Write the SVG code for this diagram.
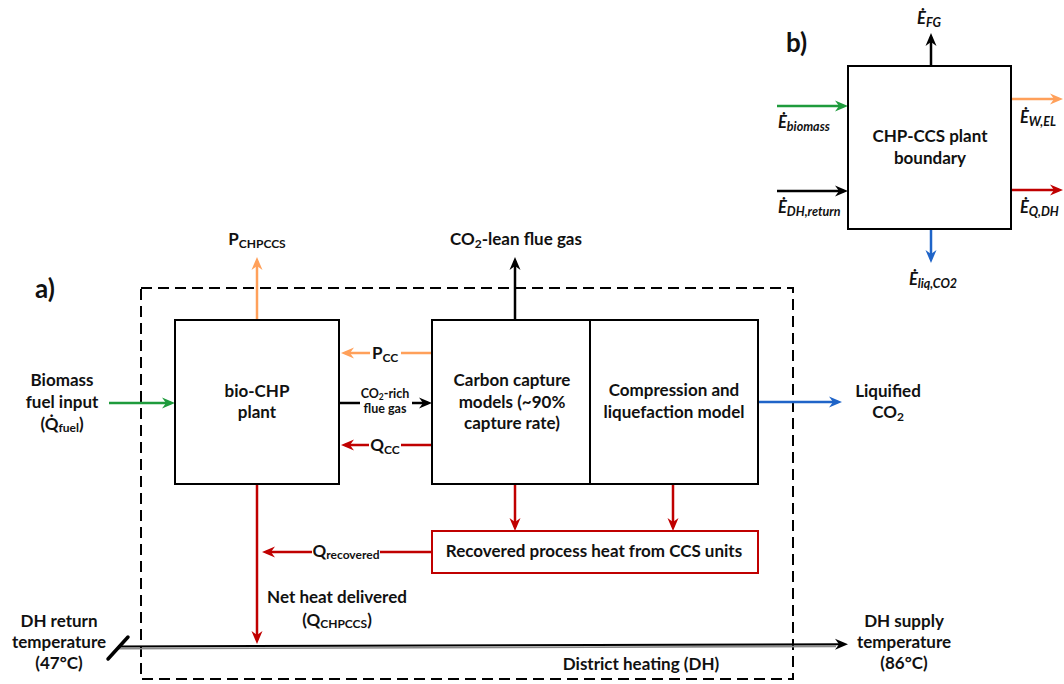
<svg xmlns="http://www.w3.org/2000/svg" width="1064" height="684" viewBox="0 0 1064 684">
<defs>
<style>
.t{font-family:"Lato","Liberation Sans",sans-serif;font-weight:bold;font-size:17px;fill:#111}
.c{text-anchor:middle}
.s{font-size:12px}
.e{font-family:"Lato","Liberation Sans",sans-serif;font-weight:bold;font-style:italic;font-size:16.5px;fill:#111}
.es{font-size:12.5px}
.box{fill:#fff;stroke:#000;stroke-width:2}
.ln{fill:none;stroke-width:2.5}
.k{stroke:#000}.o{stroke:#FFA05A}.r{stroke:#C00000}.b{stroke:#1F64C8}.g{stroke:#1E9B3C}
</style>
<marker id="ak" markerUnits="userSpaceOnUse" markerWidth="14" markerHeight="12" refX="9" refY="6" orient="auto"><path d="M0,0.5 L13,6 L0,11.5 L4,6 Z" fill="#000"/></marker>
<marker id="ao" markerUnits="userSpaceOnUse" markerWidth="14" markerHeight="12" refX="9" refY="6" orient="auto"><path d="M0,0.5 L13,6 L0,11.5 L4,6 Z" fill="#FFA05A"/></marker>
<marker id="ar" markerUnits="userSpaceOnUse" markerWidth="14" markerHeight="12" refX="9" refY="6" orient="auto"><path d="M0,0.5 L13,6 L0,11.5 L4,6 Z" fill="#C00000"/></marker>
<marker id="ab" markerUnits="userSpaceOnUse" markerWidth="14" markerHeight="12" refX="9" refY="6" orient="auto"><path d="M0,0.5 L13,6 L0,11.5 L4,6 Z" fill="#1F64C8"/></marker>
<marker id="ag" markerUnits="userSpaceOnUse" markerWidth="14" markerHeight="12" refX="9" refY="6" orient="auto"><path d="M0,0.5 L13,6 L0,11.5 L4,6 Z" fill="#1E9B3C"/></marker>
</defs>
<rect width="1064" height="684" fill="#fff"/>

<g id="boundary">
<rect x="141" y="288" width="652" height="391" fill="none" stroke="#000" stroke-width="2" stroke-dasharray="11 6"/>
</g>

<g id="connectors">
<line class="ln o" x1="257" y1="320" x2="257" y2="261" marker-end="url(#ao)"/>
<line class="ln k" x1="515" y1="320" x2="515" y2="261" marker-end="url(#ak)"/>
<line class="ln g" x1="109" y1="403" x2="171" y2="403" marker-end="url(#ag)"/>
<line class="ln o" x1="432" y1="353" x2="345" y2="353" marker-end="url(#ao)"/>
<line class="ln k" x1="339" y1="403" x2="360" y2="403"/>
<line class="ln k" x1="412" y1="403" x2="428" y2="403" marker-end="url(#ak)"/>
<line class="ln r" x1="432" y1="445" x2="345" y2="445" marker-end="url(#ar)"/>
<line class="ln b" x1="758" y1="402" x2="838" y2="402" marker-end="url(#ab)"/>
<line class="ln r" x1="515" y1="484" x2="515" y2="527" marker-end="url(#ar)"/>
<line class="ln r" x1="673" y1="484" x2="673" y2="527" marker-end="url(#ar)"/>
<line class="ln r" x1="432" y1="552" x2="266" y2="552" marker-end="url(#ar)"/>
<line class="ln r" x1="257" y1="484" x2="257" y2="640" marker-end="url(#ar)"/>
<line x1="118" y1="648.7" x2="836" y2="646.4" stroke="#8a8a8a" stroke-width="1.6"/>
<line x1="118" y1="646.5" x2="844" y2="644.2" stroke="#000" stroke-width="2" marker-end="url(#ak)"/>
<line x1="108" y1="659" x2="128" y2="637" stroke="#000" stroke-width="3.5" stroke-linecap="round"/>
<line class="ln k" x1="931" y1="66" x2="931" y2="37" marker-end="url(#ak)"/>
<line class="ln g" x1="777" y1="106" x2="844" y2="106" marker-end="url(#ag)"/>
<line class="ln k" x1="777" y1="191" x2="844" y2="191" marker-end="url(#ak)"/>
<line class="ln o" x1="1011" y1="99" x2="1059" y2="99" marker-end="url(#ao)"/>
<line class="ln r" x1="1011" y1="190" x2="1059" y2="190" marker-end="url(#ar)"/>
<line class="ln b" x1="931" y1="229" x2="931" y2="259" marker-end="url(#ab)"/>
</g>

<g id="bio-chp">
<rect class="box" x="175" y="320" width="164" height="164"/>
<text class="t c" x="257" y="397">bio-CHP</text>
<text class="t c" x="257" y="418">plant</text>
</g>

<g id="carbon-capture">
<rect class="box" x="432" y="320" width="158" height="164"/>
<text class="t c" x="512" y="386">Carbon capture</text>
<text class="t c" x="512" y="408">models (~90%</text>
<text class="t c" x="512" y="429">capture rate)</text>
</g>

<g id="compression">
<rect class="box" x="590" y="320" width="168" height="164"/>
<text class="t c" x="674" y="396">Compression and</text>
<text class="t c" x="674" y="418">liquefaction model</text>
</g>

<g id="recovered-heat">
<rect x="432" y="531" width="326" height="42" fill="#fff" stroke="#C00000" stroke-width="2"/>
<text class="t c" x="594" y="557">Recovered process heat from CCS units</text>
</g>

<g id="labels-a">
<text class="t" x="35" y="298" style="font-size:26px">a)</text>
<text class="t c" x="257" y="245">P<tspan class="s" dy="3">CHPCCS</tspan></text>
<text class="t c" x="516" y="245">CO<tspan class="s" dy="3">2</tspan><tspan dy="-3">-lean flue gas</tspan></text>
<text class="t c" x="62" y="386">Biomass</text>
<text class="t c" x="62" y="408">fuel input</text>
<text class="t c" x="62" y="430">(Q̇<tspan class="s" dy="2">fuel</tspan><tspan dy="-2">)</tspan></text>
<rect x="370" y="344" width="31" height="18" fill="#fff"/>
<text class="t c" x="385" y="359">P<tspan class="s" dy="3">CC</tspan></text>
<rect x="360" y="388" width="52" height="28" fill="#fff"/>
<text class="t c" x="385" y="398" style="font-size:12.5px">CO<tspan style="font-size:8.5px" dy="2">2</tspan><tspan dy="-2">-rich</tspan></text>
<text class="t c" x="385" y="413" style="font-size:12.5px">flue gas</text>
<rect x="369" y="436" width="32" height="18" fill="#fff"/>
<text class="t c" x="385" y="451">Q<tspan class="s" dy="3">CC</tspan></text>
<text class="t c" x="888" y="397">Liquified</text>
<text class="t c" x="888" y="418">CO<tspan class="s" dy="3">2</tspan></text>
<rect x="312" y="542" width="68" height="20" fill="#fff"/>
<text class="t c" x="346" y="557">Q<tspan class="s" dy="2">recovered</tspan></text>
<text class="t c" x="337" y="603">Net heat delivered</text>
<text class="t c" x="337" y="626">(Q<tspan class="s" dy="2">CHPCCS</tspan><tspan dy="-2">)</tspan></text>
<text class="t c" x="59" y="627">DH return</text>
<text class="t c" x="59" y="648">temperature</text>
<text class="t c" x="59" y="669">(47°C)</text>
<text class="t c" x="904" y="627">DH supply</text>
<text class="t c" x="904" y="648">temperature</text>
<text class="t c" x="904" y="669">(86°C)</text>
<text class="t c" x="641" y="670">District heating (DH)</text>
</g>

<g id="plant-boundary-b">
<rect class="box" x="848" y="66" width="163" height="163"/>
<text class="t c" x="930" y="142">CHP-CCS plant</text>
<text class="t c" x="930" y="164">boundary</text>
</g>

<g id="labels-b">
<text class="t" x="786" y="52" style="font-size:26px">b)</text>
<text class="e c" x="929" y="24">Ė<tspan class="es" dy="3">FG</tspan></text>
<text class="e" x="778" y="128">Ė<tspan class="es" dy="3">biomass</tspan></text>
<text class="e" x="778" y="213">Ė<tspan class="es" dy="3">DH,return</tspan></text>
<text class="e" x="1020" y="123">Ė<tspan class="es" dy="3">W,EL</tspan></text>
<text class="e" x="1020" y="213">Ė<tspan class="es" dy="3">Q,DH</tspan></text>
<text class="e c" x="933" y="285">Ė<tspan class="es" dy="3">liq,CO2</tspan></text>
</g>
</svg>
